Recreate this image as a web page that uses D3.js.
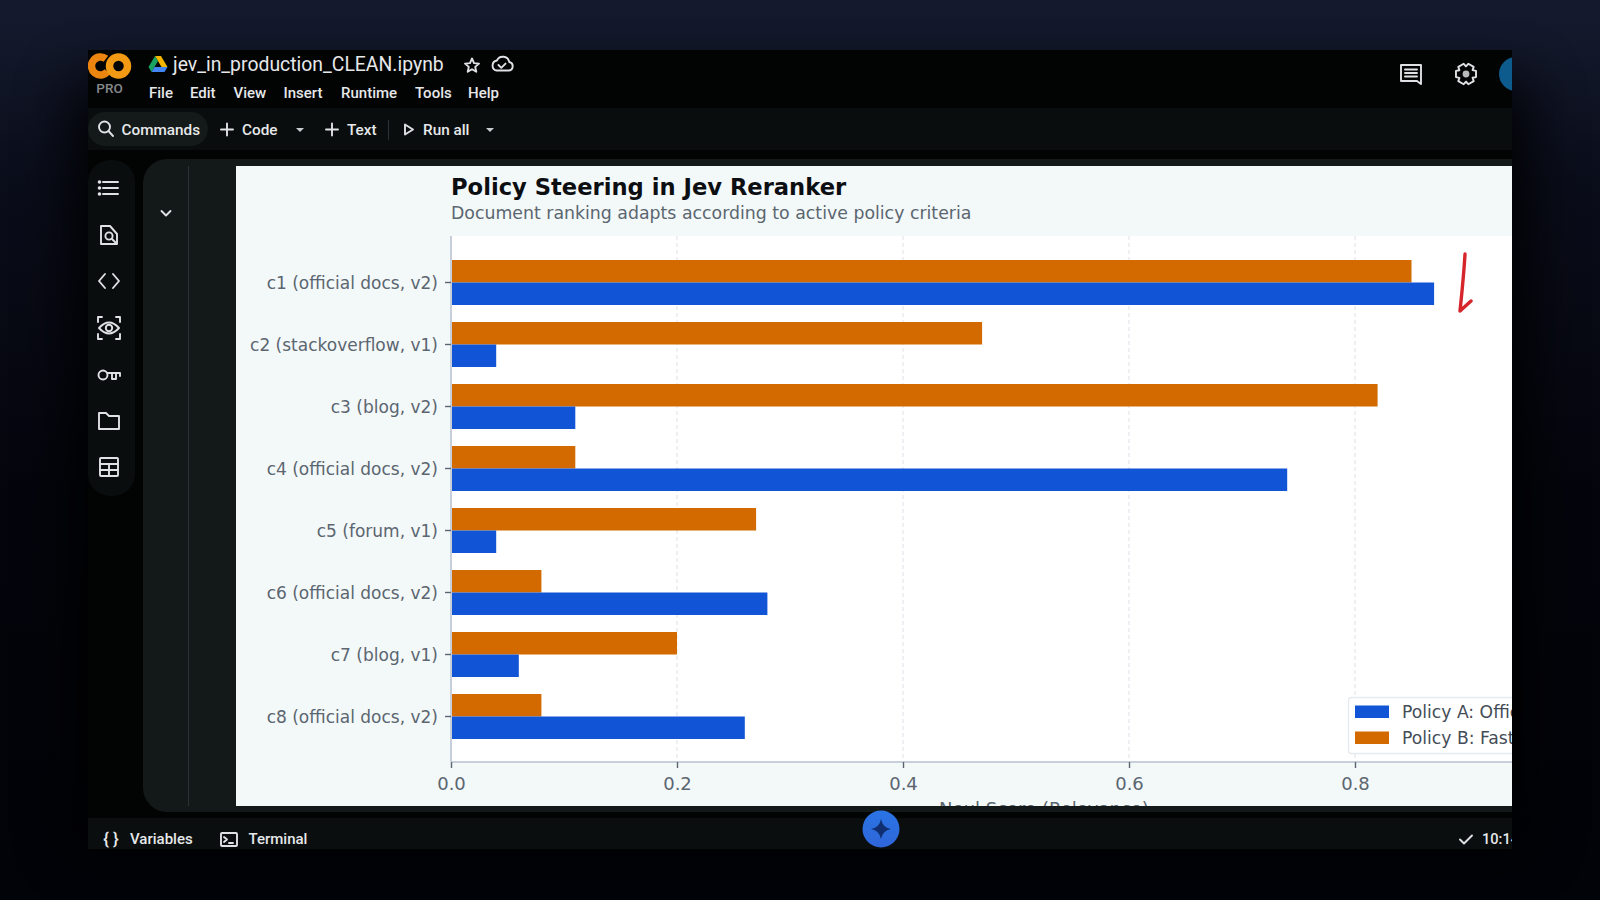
<!DOCTYPE html>
<html><head><meta charset="utf-8">
<script src="https://cdn.jsdelivr.net/npm/d3@7/dist/d3.min.js"></script>
<style>
html,body{margin:0;padding:0;background:#05070f;overflow:hidden}
svg{display:block}
.ui{font-family:Roboto,"Noto Sans",sans-serif;fill:#e6e8ea;font-weight:500}
.mpl{font-family:"DejaVu Sans",sans-serif}
.ic{fill:none;stroke:#dfe1e4;stroke-width:1.9;stroke-linecap:round;stroke-linejoin:round}
</style></head><body><div id="c"></div>
<script>
const categories=["c1 (official docs, v2)","c2 (stackoverflow, v1)","c3 (blog, v2)","c4 (official docs, v2)","c5 (forum, v1)","c6 (official docs, v2)","c7 (blog, v1)","c8 (official docs, v2)"];
const policyA=[0.87,0.04,0.11,0.74,0.04,0.28,0.06,0.26];
const policyB=[0.85,0.47,0.82,0.11,0.27,0.08,0.20,0.08];
const xTicks=[0,0.2,0.4,0.6,0.8];
const seriesNames=["Policy A: Official Docs","Policy B: Fastest Answer"];
const seriesColors=["#1155d6","#d26a00"];
const chartTitle="Policy Steering in Jev Reranker";
const chartSubtitle="Document ranking adapts according to active policy criteria";
const xLabel="Neul Score (Relevance)";
const menuItems=[["File",149],["Edit",190],["View",233.5],["Insert",283.5],["Runtime",341],["Tools",415],["Help",468]];

const W=1600,H=900;
const svg=d3.select("#c").append("svg").attr("width",W).attr("height",H);
const defs=svg.append("defs");
const bg=defs.append("linearGradient").attr("id","bg").attr("x1",0).attr("y1",0).attr("x2",0).attr("y2",1);
bg.append("stop").attr("offset",0).attr("stop-color","#141a2e");
bg.append("stop").attr("offset",0.06).attr("stop-color","#121729");
bg.append("stop").attr("offset",0.2).attr("stop-color","#0a0d1a");
bg.append("stop").attr("offset",0.55).attr("stop-color","#04050c");
bg.append("stop").attr("offset",1).attr("stop-color","#020308");
const blur=defs.append("filter").attr("id","sh").attr("x","-10%").attr("y","-10%").attr("width","120%").attr("height","120%");
blur.append("feGaussianBlur").attr("stdDeviation",28);
defs.append("clipPath").attr("id","win").append("rect").attr("x",88).attr("y",50).attr("width",1424).attr("height",800);
defs.append("clipPath").attr("id","panel").append("rect").attr("x",236).attr("y",166).attr("width",1276).attr("height",640);

svg.append("rect").attr("width",W).attr("height",H).attr("fill","url(#bg)");
svg.append("rect").attr("x",70).attr("y",80).attr("width",1460).attr("height",770).attr("fill","#000").attr("opacity",0.85).attr("filter","url(#sh)");
const win=svg.append("g").attr("clip-path","url(#win)");
win.append("rect").attr("x",88).attr("y",50).attr("width",1424).attr("height",800).attr("fill","#020303");
win.append("rect").attr("x",88).attr("y",108).attr("width",1424).attr("height",42).attr("fill","#0a0d0d");
win.append("rect").attr("x",88).attr("y",818).attr("width",1424).attr("height",31).attr("fill","#0a0e0e");
// sidebar + notebook panel
win.append("rect").attr("x",88).attr("y",160).attr("width",47).attr("height",336).attr("rx",22).attr("fill","#0a0d0d");
win.append("rect").attr("x",143).attr("y",159).attr("width",1400).attr("height",653).attr("rx",24).attr("fill","#131819");
win.append("rect").attr("x",88).attr("y",112).attr("width",120).attr("height",34).attr("rx",17).attr("fill","#141919");
win.append("line").attr("x1",188.5).attr("x2",188.5).attr("y1",166).attr("y2",806).attr("stroke","#2c3233");

// header
win.append("circle").attr("cx",100.5).attr("cy",66).attr("r",9).attr("fill","none").attr("stroke","#ec8410").attr("stroke-width",7.5).attr("stroke-dasharray","42 14.5").attr("transform","rotate(38 100.5 66)");
win.append("circle").attr("cx",118.5).attr("cy",66).attr("r",9).attr("fill","none").attr("stroke","#f29a14").attr("stroke-width",7.5);
win.append("text").attr("class","ui").attr("x",109.5).attr("y",92.5).attr("text-anchor","middle").attr("font-size",13.5).style("fill","#84898c").text("PRO");
const drive=win.append("g").attr("transform","translate(158,64)");
drive.append("path").attr("d","M-3-8H3L9.5 3H3.5Z").attr("fill","#f4b400");
drive.append("path").attr("d","M-3-8L-9.5 3L-6.5 8L0-3Z").attr("fill","#1aa260");
drive.append("path").attr("d","M-6.5 8H6.5L9.5 3H-3.5Z").attr("fill","#4285f4");
win.append("text").attr("class","ui").attr("x",173).attr("y",71).attr("font-size",19.4).style("font-weight",400).text("jev_in_production_CLEAN.ipynb");
win.append("path").attr("class","ic").attr("stroke-width",1.5).attr("d","M472 58.5l2 4.6 5 .5-3.8 3.3 1.1 4.9-4.3-2.6-4.3 2.6 1.1-4.9-3.8-3.3 5-.5z");
win.append("path").attr("class","ic").attr("stroke-width",1.4).attr("d","M496.5 70.5h12a4.3 4.3 0 0 0 .8-8.5 6.6 6.6 0 0 0-12.4-1.5 5.1 5.1 0 0 0-.4 10zM498.5 65l2.8 2.8 4.2-4.2");
win.selectAll(".menu").data(menuItems).join("text").attr("class","ui menu").attr("x",d=>d[1]).attr("y",98).attr("font-size",15).text(d=>d[0]);
// toolbar
win.append("circle").attr("class","ic").attr("cx",104.5).attr("cy",127).attr("r",5.5).attr("stroke-width",1.6);
win.append("line").attr("class","ic").attr("x1",108.5).attr("y1",131).attr("x2",113).attr("y2",136).attr("stroke-width",1.6);
[["Commands",121.5],["Code",242],["Text",347],["Run all",423]].forEach(d=>win.append("text").attr("class","ui").attr("x",d[1]).attr("y",134.5).attr("font-size",15.3).text(d[0]));
[227,332].forEach(x=>win.append("path").attr("class","ic").attr("stroke-width",1.5).attr("d",`M${x-6} 129.5H${x+6}M${x} 123.5V135.5`));
[300,490].forEach(x=>win.append("path").attr("fill","#c9ccce").attr("d",`M${x-4} 128H${x+4}L${x} 132Z`));
win.append("line").attr("x1",388.5).attr("x2",388.5).attr("y1",120).attr("y2",140).attr("stroke","#2c3233");
win.append("path").attr("class","ic").attr("stroke-width",1.5).attr("d","M405 124.5L413 129.5L405 134.5Z");
// right header icons
win.append("path").attr("class","ic").attr("stroke","#d8dadc").attr("stroke-width",1.7).attr("d","M1401 65H1421V84L1417 81H1401ZM1405 69.5H1417M1405 73H1417M1405 76.5H1417");
const gear=[];
for(let i=0;i<6;i++){const a=i*Math.PI/3;[[-.3,10.5],[.3,10.5],[.52,7.6]].forEach(p=>gear.push([1466+p[1]*Math.cos(a+p[0]),74+p[1]*Math.sin(a+p[0])]));}
win.append("path").attr("class","ic").attr("stroke-width",1.7).attr("d",d3.line().curve(d3.curveLinearClosed)(gear));
win.append("circle").attr("cx",1466).attr("cy",74).attr("r",3.4).attr("fill","#b8babc");
win.append("circle").attr("cx",1516).attr("cy",74).attr("r",17).attr("fill","#0d5a8c");
// sidebar icons
const sx=109;
win.append("path").attr("class","ic").attr("d",`M${sx-6} 182H${sx+9}M${sx-6} 188H${sx+9}M${sx-6} 194H${sx+9}`);
[182,188,194].forEach(y=>win.append("circle").attr("cx",sx-9.5).attr("cy",y).attr("r",1.8).attr("fill","#e3e5e8"));
win.append("path").attr("class","ic").attr("d",`M${sx-8} 226H${sx+1}L${sx+8} 234V244H${sx-8}Z`);
win.append("circle").attr("class","ic").attr("cx",sx).attr("cy",236).attr("r",3.6);
win.append("path").attr("class","ic").attr("d",`M${sx+3} 239L${sx+7} 243`);
win.append("path").attr("class","ic").attr("d",`M${sx-4} 274L${sx-10} 281L${sx-4} 288M${sx+4} 274L${sx+10} 281L${sx+4} 288`);
win.append("path").attr("class","ic").attr("d",`M${sx-10} 328Q${sx} 317 ${sx+10} 328Q${sx} 339 ${sx-10} 328Z`);
win.append("circle").attr("class","ic").attr("cx",sx).attr("cy",328).attr("r",3.2);
win.append("path").attr("class","ic").attr("d",`M${sx-11} 322V317H${sx-7}M${sx+7} 317H${sx+11}V322M${sx-11} 334V339H${sx-7}M${sx+7} 339H${sx+11}V334`);
win.append("circle").attr("class","ic").attr("cx",sx-6).attr("cy",375).attr("r",4.5).attr("stroke-width",2.3);
win.append("path").attr("class","ic").attr("stroke-width",2.2).attr("d",`M${sx-1.5} 373H${sx+11}V376M${sx+3} 373V379H${sx+7}V373`);
win.append("path").attr("class","ic").attr("d",`M${sx-10} 413H${sx-3}L${sx} 416H${sx+10}V429H${sx-10}Z`);
win.append("rect").attr("class","ic").attr("x",sx-9).attr("y",458).attr("width",18).attr("height",18).attr("rx",1);
win.append("path").attr("class","ic").attr("d",`M${sx-9} 464H${sx+9}M${sx-9} 470H${sx+9}M${sx} 464V476`);
win.append("path").attr("class","ic").attr("d","M161.5 211L166 215.5L170.5 211");

// bottom bar
win.append("text").attr("class","ui").attr("x",111).attr("y",844.5).attr("text-anchor","middle").attr("font-size",17).text("{ }");
win.append("text").attr("class","ui").attr("x",130).attr("y",844).attr("font-size",15).text("Variables");
win.append("rect").attr("class","ic").attr("stroke-width",1.6).attr("x",221).attr("y",833).attr("width",16).attr("height",13).attr("rx",1);
win.append("path").attr("class","ic").attr("stroke-width",1.4).attr("d","M224 837L227 839.5L224 842M229 843H233");
win.append("text").attr("class","ui").attr("x",248.5).attr("y",844).attr("font-size",15).text("Terminal");
win.append("path").attr("class","ic").attr("stroke-width",1.7).attr("d","M1460 839.5L1464 843.5L1472 835.5");
win.append("text").attr("class","ui").attr("x",1482).attr("y",844).attr("font-size",14.6).text("10:14");

// chart panel
const panel=win.append("g").attr("clip-path","url(#panel)");
panel.append("rect").attr("x",236).attr("y",166).attr("width",1276).attr("height",640).attr("fill","#f3f8f9");
const xStart=451,xEnd=1581,plotTop=236,plotBottom=762;
panel.append("rect").attr("x",xStart).attr("y",plotTop).attr("width",1512-xStart).attr("height",plotBottom-plotTop).attr("fill","#ffffff");
const x=d3.scaleLinear().domain([0,1]).range([xStart,xEnd]);
const y=d3.scaleBand().domain(categories).range([251.5,747.5]);
const sub=d3.scaleBand().domain(["B","A"]).range([y.bandwidth()/2-22.5,y.bandwidth()/2+22.5]);

panel.append("g").selectAll("line").data(xTicks.slice(1)).join("line")
 .attr("x1",d=>x(d)).attr("x2",d=>x(d)).attr("y1",plotTop).attr("y2",plotBottom)
 .attr("stroke","#e4e7eb").attr("stroke-width",1.2).attr("stroke-dasharray","4 3");

const rows=categories.map((c,i)=>({c,a:policyA[i],b:policyB[i]}));
panel.append("g").selectAll("rect").data(rows).join("rect")
 .attr("x",x(0)).attr("y",d=>y(d.c)+sub("B")).attr("width",d=>x(d.b)-x(0)).attr("height",sub.bandwidth()).attr("fill",seriesColors[1]);
panel.append("g").selectAll("rect").data(rows).join("rect")
 .attr("x",x(0)).attr("y",d=>y(d.c)+sub("A")).attr("width",d=>x(d.a)-x(0)).attr("height",sub.bandwidth()).attr("fill",seriesColors[0]);

const ax=panel.append("g").attr("transform",`translate(0,${plotBottom})`).call(d3.axisBottom(x).tickValues(xTicks).tickFormat(d3.format(".1f")).tickSize(6).tickPadding(9).tickSizeOuter(0));
const ay=panel.append("g").attr("transform",`translate(${xStart},0)`).call(d3.axisLeft(y).tickSize(6).tickPadding(7).tickSizeOuter(0));
[ax,ay].forEach(a=>{
 a.selectAll("text").attr("class","mpl").attr("fill","#5b6670");
 a.selectAll(".tick line").attr("stroke","#5b6670").attr("stroke-width",1.4);
 a.select(".domain").attr("stroke","#c6cfda").attr("stroke-width",2);
});
ax.selectAll("text").attr("font-size",18);
ay.selectAll("text").attr("font-size",17).attr("dy","0.36em");
ay.select(".domain").attr("d",`M0,${plotTop}V${plotBottom}`);
ax.select(".domain").attr("d",`M${xStart},0H1512`);

panel.append("text").attr("class","mpl").attr("x",xStart).attr("y",195).attr("font-size",22.65).attr("font-weight",700).attr("fill","#0c0e12").text(chartTitle);
panel.append("text").attr("class","mpl").attr("x",xStart).attr("y",219).attr("font-size",17.33).attr("fill","#5b6670").text(chartSubtitle);
panel.append("text").attr("class","mpl").attr("x",1044).attr("y",815).attr("text-anchor","middle").attr("font-size",18).attr("fill","#5b6670").text(xLabel);

// legend
const lg=panel.append("g");
lg.append("rect").attr("x",1348.5).attr("y",697.5).attr("width",220).attr("height",56).attr("rx",3).attr("fill","#fff").attr("stroke","#e6eaee").attr("stroke-width",1.3);
seriesNames.forEach((n,i)=>{
 const cy=711.5+i*26;
 lg.append("rect").attr("x",1355).attr("y",cy-6).attr("width",34).attr("height",12.5).attr("fill",seriesColors[i]);
 lg.append("text").attr("class","mpl").attr("x",1402).attr("y",cy+6).attr("font-size",17.2).attr("fill","#444d57").text(n);
});

// red ink annotation
panel.append("path").attr("fill","none").attr("stroke","#d6262c").attr("stroke-width",3.4).attr("stroke-linecap","round").attr("stroke-linejoin","round")
 .attr("d","M1465 254C1464 272 1462 292 1460 311L1471 301");

// gemini button
const gb=defs.append("linearGradient").attr("id","gb").attr("x1",0).attr("y1",0).attr("x2",0).attr("y2",1);
gb.append("stop").attr("offset",0).attr("stop-color","#2a74e6");
gb.append("stop").attr("offset",1).attr("stop-color","#2f66d8");
win.append("circle").attr("cx",881).attr("cy",829).attr("r",18.5).attr("fill","url(#gb)");
win.append("path").attr("fill","#0f2f70").attr("d","M881 819Q882.5 827.5 891 829Q882.5 830.5 881 839Q879.5 830.5 871 829Q879.5 827.5 881 819Z");
</script></body></html>
